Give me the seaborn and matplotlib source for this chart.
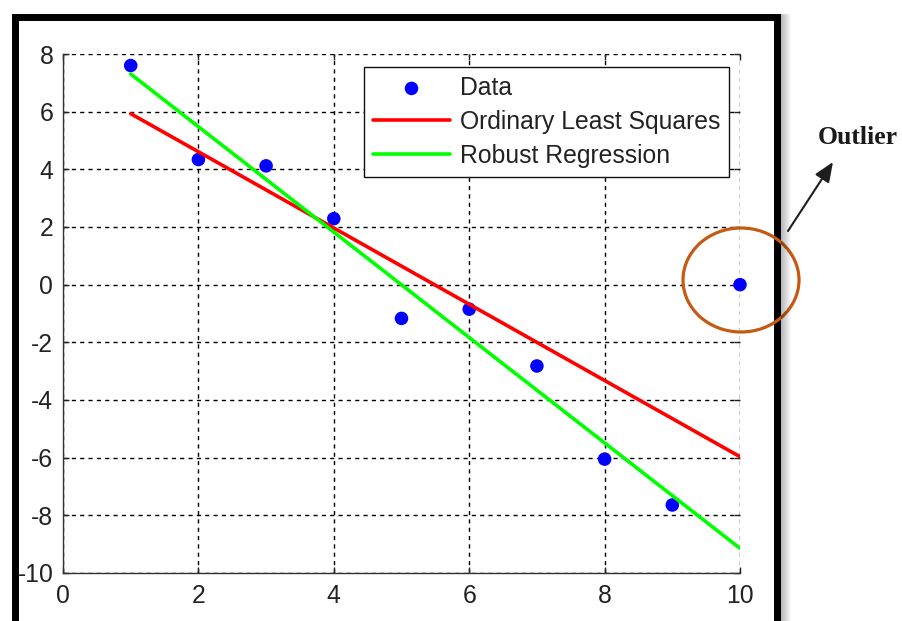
import numpy as np
import pandas as pd
import matplotlib
matplotlib.use("Agg")
import matplotlib.pyplot as plt
import seaborn as sns
from matplotlib.patches import Ellipse, Rectangle, FancyArrowPatch
from matplotlib.lines import Line2D

# ---- data -------------------------------------------------------------
x_data = [1, 2, 3, 4, 5, 6, 7, 8, 9, 10]
y_data = [7.60, 4.34, 4.12, 2.29, -1.17, -0.85, -2.82, -6.05, -7.64, 0.00]
x_ticks = [0, 2, 4, 6, 8, 10]
y_ticks = [-10, -8, -6, -4, -2, 0, 2, 4, 6, 8]
series_labels = ["Data", "Ordinary Least Squares", "Robust Regression"]
outlier_note = "Outlier"

# ---- fits -------------------------------------------------------------
def fit_ols(x, y):
    slope, intercept = np.polyfit(x, y, 1)
    return intercept, slope


def fit_bisquare(x, y, tune=4.685, n_iter=100):
    """Iteratively reweighted least squares with Tukey's bisquare weights."""
    X = np.column_stack([np.ones_like(x), x])
    w = np.ones_like(y)
    beta = np.zeros(2)
    for _ in range(n_iter):
        sw = np.sqrt(w)
        beta = np.linalg.lstsq(X * sw[:, None], y * sw, rcond=None)[0]
        r = y - X @ beta
        s = np.median(np.abs(r - np.median(r))) / 0.6745
        u = r / (tune * max(s, 1e-9))
        w_new = np.where(np.abs(u) < 1, (1 - u ** 2) ** 2, 0.0)
        if np.allclose(w_new, w):
            break
        w = w_new
    return beta[0], beta[1]


xa = np.asarray(x_data, dtype=float)
ya = np.asarray(y_data, dtype=float)
b0_ols, b1_ols = fit_ols(xa, ya)
b0_rob, b1_rob = fit_bisquare(xa, ya)

fit_df = pd.DataFrame({
    "x": np.concatenate([xa, xa]),
    "y": np.concatenate([b0_ols + b1_ols * xa, b0_rob + b1_rob * xa]),
    "fit": [series_labels[1]] * len(xa) + [series_labels[2]] * len(xa),
})
data_df = pd.DataFrame({"x": xa, "y": ya})

# ---- styling ----------------------------------------------------------
sns.set_theme(style="white")
plt.rcParams["font.family"] = ["Liberation Sans", "DejaVu Sans"]
plt.rcParams["text.color"] = "#222222"
plt.rcParams["xtick.color"] = "#222222"
plt.rcParams["ytick.color"] = "#222222"

W, H = 902, 621
fig = plt.figure(figsize=(W / 100, H / 100), dpi=100, facecolor="white")


def fx(px):
    return px / W


def fy(py):
    return 1 - py / H


ax_l, ax_r, ax_t, ax_b = 63, 740, 54, 573
ax = fig.add_axes([fx(ax_l), fy(ax_b), (ax_r - ax_l) / W, (ax_b - ax_t) / H])
ax.set_facecolor("white")

sns.scatterplot(data=data_df, x="x", y="y", ax=ax, color=(0, 0, 1),
                s=95, edgecolor="none", label=series_labels[0], zorder=3,
                clip_on=False)
sns.lineplot(data=fit_df, x="x", y="y", hue="fit", ax=ax,
             palette={series_labels[1]: (1, 0, 0), series_labels[2]: (0, 1, 0)},
             hue_order=series_labels[1:], linewidth=2.6, zorder=4,
             errorbar=None, sort=True)

ax.set_xlim(0, 10)
ax.set_ylim(-10, 8)
ax.set_xticks(x_ticks)
ax.set_yticks(y_ticks)
ax.set_xticklabels([str(t) for t in x_ticks])
ax.set_yticklabels([str(t) for t in y_ticks])
ax.set_xlabel("")
ax.set_ylabel("")

ax.grid(True, color="black", linestyle=(0, (3, 3)), linewidth=1.0)
ax.set_axisbelow(True)
for side in ("top", "right"):
    ax.spines[side].set_visible(False)
for side in ("left", "bottom"):
    ax.spines[side].set_visible(True)
    ax.spines[side].set_color("#333333")
    ax.spines[side].set_linewidth(1.0)

ax.tick_params(axis="both", which="both", direction="in", length=4.5,
               width=1.0, color="#222222", labelsize=17.8,
               top=True, right=True, bottom=True, left=True)
ax.tick_params(axis="x", pad=8)
ax.tick_params(axis="y", pad=7)

handles, labels = ax.get_legend_handles_labels()
leg = ax.legend(handles, labels, loc="upper right",
                bbox_to_anchor=(fx(729), fy(67)), bbox_transform=fig.transFigure,
                borderaxespad=0, fontsize=17.8, frameon=True, fancybox=False,
                framealpha=1, facecolor="white", edgecolor="#111111",
                handlelength=3.1, handletextpad=0.4, labelspacing=0.40,
                borderpad=0.36, numpoints=1, markerscale=1.0)
leg.get_frame().set_linewidth(1.0)

# ---- outer frame with a soft shadow on the right -----------------------
for i in range(10):
    fig.add_artist(Line2D([fx(781 + i), fx(781 + i)], [fy(14), fy(640)],
                          transform=fig.transFigure, color="black",
                          alpha=0.28 * (1 - i / 10), linewidth=0.72))
fig.add_artist(Rectangle((fx(14.5), fy(660)), fx(776.5) - fx(14.5), fy(17) - fy(660),
                         transform=fig.transFigure, fill=False,
                         edgecolor="black", linewidth=5.0, joinstyle="miter"))

# ---- outlier callout --------------------------------------------------
fig.add_artist(Ellipse((fx(741), fy(280)), 116 / W, 104 / H,
                       transform=fig.transFigure, fill=False,
                       edgecolor="#C55A11", linewidth=2.3))
fig.add_artist(FancyArrowPatch((fx(788), fy(231)), (fx(833), fy(162)),
                               transform=fig.transFigure,
                               arrowstyle="-|>,head_length=1.2,head_width=0.5",
                               mutation_scale=10, color="#1e1e1e",
                               linewidth=1.5, shrinkA=0, shrinkB=0))
fig.text(fx(818), fy(144), outlier_note, family=["Liberation Serif", "DejaVu Serif"],
         fontweight="bold", fontsize=18.5, ha="left", va="baseline",
         color="#1a1a1a")

fig.savefig("out.png", dpi=100, facecolor="white")
